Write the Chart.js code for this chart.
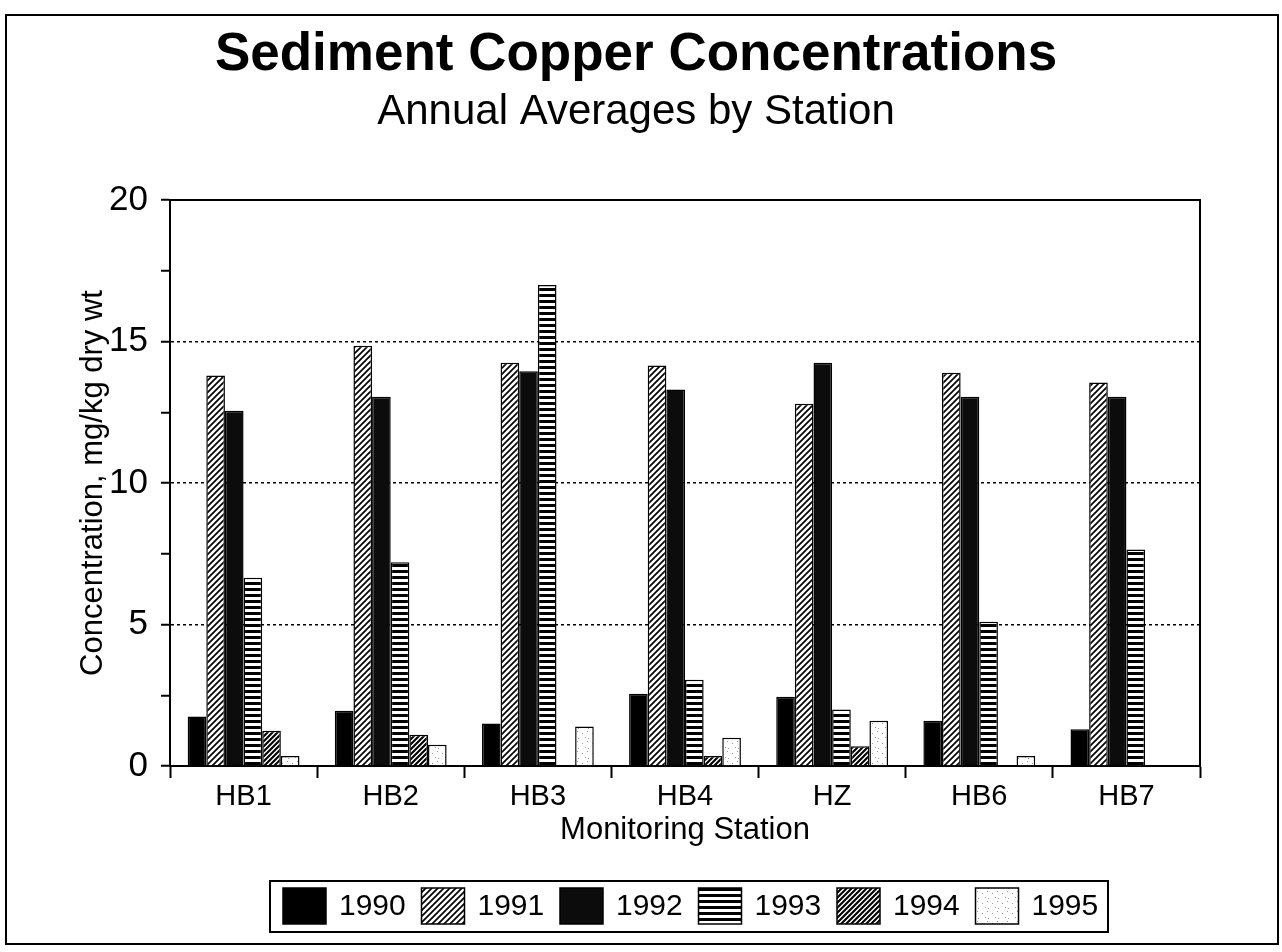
<!DOCTYPE html>
<html lang="en">
<head>
<meta charset="UTF-8">
<title>Sediment Copper Concentrations</title>
<script src="https://cdn.jsdelivr.net/npm/chart.js@4"></script>
<style>
  body { margin: 0; background: #fff; }
  canvas { display: block; }
</style>
</head>
<body>
<canvas id="cuChart" width="1282" height="952"></canvas>
<script>
const stations = ['HB1', 'HB2', 'HB3', 'HB4', 'HZ', 'HB6', 'HB7'];
const years = ['1990', '1991', '1992', '1993', '1994', '1995'];

// mg/kg dry wt
const cu1990 = [1.75, 1.95, 1.5, 2.55, 2.45, 1.6, 1.3];
const cu1991 = [13.8, 14.85, 14.25, 14.15, 12.8, 13.9, 13.55];
const cu1992 = [12.55, 13.05, 13.95, 13.3, 14.25, 13.05, 13.05];
const cu1993 = [6.65, 7.2, 17.0, 3.05, 2.0, 5.1, 7.65];
const cu1994 = [1.25, 1.1, 0, 0.35, 0.7, 0, 0];
const cu1995 = [0.35, 0.75, 1.4, 1.0, 1.6, 0.35, 0];

const yMajor = [0, 5, 10, 15, 20];

const FONT = "'Liberation Sans', Arial, sans-serif";

function makePattern(kind) {
    const c = document.createElement('canvas');
    const p = c.getContext('2d');
    let s = 6;
    if (kind === 'dots') s = 10;
    if (kind === 'hatchDark') s = 5;
    c.width = s; c.height = s;
    p.fillStyle = '#fff';
    p.fillRect(0, 0, s, s);
    if (kind === 'hatch' || kind === 'hatchDark') {
        p.strokeStyle = '#000';
        p.lineWidth = kind === 'hatch' ? 1.7 : 2.1;
        p.beginPath();
        p.moveTo(0, s); p.lineTo(s, 0);
        p.moveTo(-1, 1); p.lineTo(1, -1);
        p.moveTo(s - 1, s + 1); p.lineTo(s + 1, s - 1);
        p.stroke();
    } else if (kind === 'hlines') {
        p.fillStyle = '#000';
        p.fillRect(0, 0, s, 3);
    } else if (kind === 'dots') {
        p.fillStyle = '#999';
        p.fillRect(2, 3, 1, 1);
        p.fillRect(7, 1, 1, 1);
        p.fillRect(5, 7, 1, 1);
        p.fillRect(8, 8, 1, 1);
    }
    return p.createPattern(c, 'repeat');
}

const fills = [
    '#000',
    makePattern('hatch'),
    '#0c0c0c',
    makePattern('hlines'),
    makePattern('hatchDark'),
    makePattern('dots')
];
const series = [cu1990, cu1991, cu1992, cu1993, cu1994, cu1995];

// outer frame, plot box and the boxed legend
const framePlugin = {
    id: 'frames',
    afterDraw(chart) {
        const ctx = chart.ctx;
        const a = chart.chartArea;
        ctx.save();
        ctx.strokeStyle = '#000';
        ctx.lineWidth = 2;
        ctx.strokeRect(6, 15, 1272, 929);

        ctx.beginPath();
        ctx.moveTo(a.left, a.top);
        ctx.lineTo(a.right, a.top);
        ctx.lineTo(a.right, a.bottom);
        ctx.stroke();

        // legend
        ctx.strokeRect(270, 881, 838, 51);
        ctx.font = '30px ' + FONT;
        ctx.textBaseline = 'middle';
        chart.data.datasets.forEach((ds, i) => {
            const x = 283 + i * 138.5;
            ctx.fillStyle = ds.backgroundColor;
            ctx.fillRect(x, 888, 43, 36);
            ctx.lineWidth = 1.5;
            ctx.strokeRect(x, 888, 43, 36);
            ctx.fillStyle = '#000';
            ctx.fillText(ds.label, x + 56, 907);
        });
        ctx.restore();
    }
};

new Chart(document.getElementById('cuChart'), {
    type: 'bar',
    data: {
        labels: stations,
        datasets: years.map((yr, i) => ({
            label: yr,
            data: series[i],
            backgroundColor: fills[i],
            borderColor: '#000',
            borderWidth: 1.5,
            categoryPercentage: 0.76,
            barPercentage: 1.0
        }))
    },
    options: {
        responsive: false,
        devicePixelRatio: 1,
        animation: false,
        layout: { padding: { left: 72, right: 82, top: 0, bottom: 103 } },
        plugins: {
            legend: { display: false },
            tooltip: { enabled: false },
            title: {
                display: true,
                text: 'Sediment Copper Concentrations',
                color: '#000',
                font: { family: FONT, size: 53, weight: 'bold' },
                padding: { top: 24, bottom: 0 }
            },
            subtitle: {
                display: true,
                text: 'Annual Averages by Station',
                color: '#000',
                font: { family: FONT, size: 42 },
                padding: { top: 0, bottom: 62 }
            }
        },
        scales: {
            x: {
                grid: {
                    drawOnChartArea: false,
                    drawTicks: true,
                    tickLength: 12,
                    tickColor: '#000',
                    tickWidth: 2,
                    offset: true
                },
                border: { color: '#000', width: 2 },
                ticks: { color: '#000', font: { family: FONT, size: 29 }, padding: 2 },
                title: {
                    display: true,
                    text: 'Monitoring Station',
                    color: '#000',
                    font: { family: FONT, size: 31 },
                    padding: { top: -5, bottom: 0 }
                }
            },
            y: {
                min: 0,
                max: 20,
                afterFit: s => { s.width = 98; },
                ticks: {
                    stepSize: 2.5,
                    autoSkip: false,
                    color: '#000',
                    font: { family: FONT, size: 35 },
                    padding: 13,
                    callback: v => yMajor.includes(v) ? v : ''
                },
                grid: {
                    color: c => (c.tick && [5, 10, 15].includes(c.tick.value)) ? '#000' : 'rgba(0,0,0,0)',
                    lineWidth: 1.5,
                    tickColor: '#000',
                    tickWidth: 2,
                    tickLength: 9
                },
                border: { color: '#000', width: 2, dash: [3, 3] },
                title: {
                    display: true,
                    text: 'Concentration, mg/kg dry wt',
                    color: '#000',
                    font: { family: FONT, size: 31 },
                    padding: { top: 3, bottom: 3 }
                }
            }
        }
    },
    plugins: [framePlugin]
});
</script>
</body>
</html>
